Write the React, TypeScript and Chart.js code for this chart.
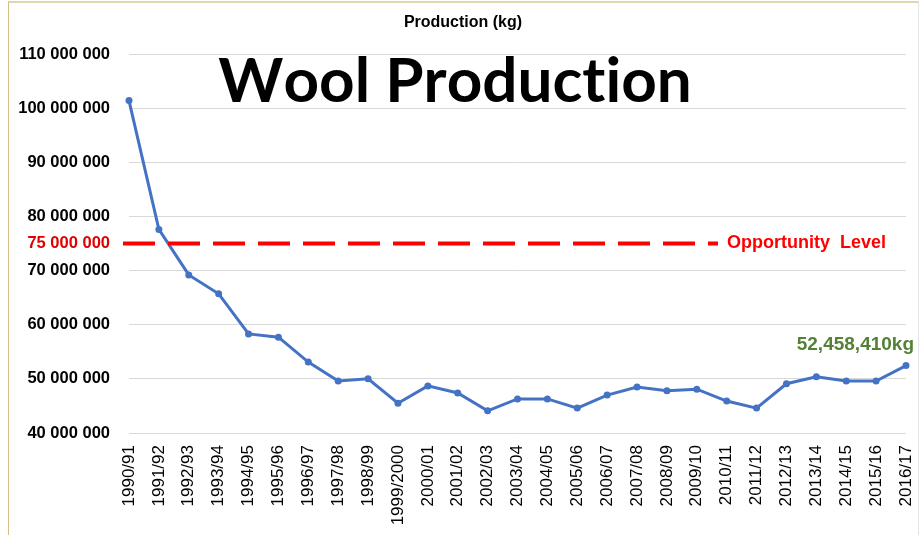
import React, { useEffect, useRef } from "react";
import { Chart, registerables } from "chart.js";

Chart.register(...registerables);

const seasons = [
  "1990/91", "1991/92", "1992/93", "1993/94", "1994/95", "1995/96", "1996/97",
  "1997/98", "1998/99", "1999/2000", "2000/01", "2001/02", "2002/03", "2003/04",
  "2004/05", "2005/06", "2006/07", "2007/08", "2008/09", "2009/10", "2010/11",
  "2011/12", "2012/13", "2013/14", "2014/15", "2015/16", "2016/17",
];

const productionKg = [
  101400000, 77600000, 69200000, 65700000, 58300000, 57700000, 53100000,
  49600000, 50000000, 45500000, 48700000, 47400000, 44100000, 46300000,
  46300000, 44600000, 47000000, 48500000, 47800000, 48100000, 45900000,
  44600000, 49100000, 50400000, 49600000, 49600000, 52458410,
];

const opportunityLevel = 75000000;
const opportunityLabel = "Opportunity  Level";
const lastValueLabel = "52,458,410kg";
const chartTitle = "Wool Production";
const axisTitle = "Production (kg)";

const yMin = 40000000;
const yMax = 110000000;
const yStep = 10000000;

const fmtSpaces = (v: number) =>
  Math.round(v).toString().replace(/\B(?=(\d{3})+(?!\d))/g, " ");

const tickFont = "bold 16.5px 'Liberation Sans', Arial, sans-serif";

const overlayPlugin = {
  id: "overlay",
  afterDatasetsDraw(chart: any) {
    const ctx = chart.ctx;
    const y = chart.scales.y;
    const x = chart.scales.x;
    const area = chart.chartArea;
    ctx.save();

    // header
    ctx.fillStyle = "#000";
    ctx.font = "bold 16px 'Liberation Sans', Arial, sans-serif";
    ctx.textAlign = "center";
    ctx.textBaseline = "middle";
    ctx.fillText(axisTitle, 463, 23);

    // big title (drawn char by char to avoid the "ti" ligature)
    ctx.font = "bold 62px Lato, 'DejaVu Sans', sans-serif";
    ctx.textAlign = "left";
    ctx.textBaseline = "alphabetic";
    const chars = Array.from(chartTitle);
    const widths = chars.map((c) => ctx.measureText(c).width);
    const total = widths.reduce((a, b) => a + b, 0);
    let cx = 455 - total / 2;
    chars.forEach((c, i) => {
      ctx.fillText(c, cx, 102);
      cx += widths[i];
    });

    // opportunity line
    const oy = y.getPixelForValue(opportunityLevel);
    ctx.strokeStyle = "#ff0000";
    ctx.lineWidth = 4;
    ctx.setLineDash([32, 13]);
    ctx.beginPath();
    ctx.moveTo(area.left - 6, oy);
    ctx.lineTo(718, oy);
    ctx.stroke();
    ctx.setLineDash([]);

    ctx.fillStyle = "#ff0000";
    ctx.font = "bold 18px 'Liberation Sans', Arial, sans-serif";
    ctx.textAlign = "left";
    ctx.textBaseline = "middle";
    ctx.fillText(opportunityLabel, 727, oy);

    ctx.fillStyle = "#e00000";
    ctx.font = tickFont;
    ctx.textAlign = "right";
    ctx.fillText(fmtSpaces(opportunityLevel), 110, oy);

    // last value label
    const li = productionKg.length - 1;
    const lx = x.getPixelForValue(li);
    const ly = y.getPixelForValue(productionKg[li]);
    ctx.fillStyle = "#548235";
    ctx.font = "bold 19px 'Liberation Sans', Arial, sans-serif";
    ctx.textAlign = "right";
    ctx.textBaseline = "middle";
    ctx.fillText(lastValueLabel, lx + 8, ly - 21);

    ctx.restore();
  },
};

export default function App() {
  const ref = useRef<HTMLCanvasElement | null>(null);

  useEffect(() => {
    document.body.style.margin = "0";
    if (!ref.current) return;
    const chart = new Chart(ref.current, {
      type: "line",
      data: {
        labels: seasons,
        datasets: [
          {
            label: axisTitle,
            data: productionKg,
            borderColor: "#4472C4",
            backgroundColor: "#4472C4",
            borderWidth: 3,
            pointRadius: 3.5,
            pointBackgroundColor: "#4472C4",
            pointBorderWidth: 0,
            tension: 0,
          },
        ],
      },
      options: {
        responsive: false,
        animation: false,
        layout: { padding: { top: 54, right: 14, left: 0, bottom: 0 } },
        plugins: {
          legend: { display: false },
          tooltip: { enabled: false },
          title: { display: false },
        },
        scales: {
          x: {
            offset: false,
            grid: { display: false, drawTicks: false },
            border: { display: false },
            ticks: {
              autoSkip: false,
              maxRotation: 90,
              minRotation: 90,
              padding: 12,
              color: "#000",
              font: { family: "'Liberation Sans', Arial, sans-serif", size: 17 },
            },
            afterFit: (s: any) => {
              s.height = 102;
              s.paddingRight = 0;
              s.paddingLeft = 0;
            },
          },
          y: {
            min: yMin,
            max: yMax,
            grid: { color: "#d9d9d9", lineWidth: 1, drawTicks: false },
            border: { display: false },
            ticks: {
              stepSize: yStep,
              padding: 19,
              color: "#000",
              font: { family: "'Liberation Sans', Arial, sans-serif", size: 16.5, weight: "bold" },
              callback: (v: any) => fmtSpaces(Number(v)),
            },
            afterFit: (s: any) => {
              s.width = 129;
            },
          },
        },
      },
      plugins: [overlayPlugin],
    });
    return () => chart.destroy();
  }, []);

  return (
    <div
      style={{
        position: "absolute",
        left: 0,
        top: 0,
        width: 920,
        height: 535,
        background: "#fff",
      }}
    >
      <div
        style={{
          position: "absolute",
          left: 8,
          top: 1,
          width: 911,
          height: 540,
          borderLeft: "1px solid #d6bf86",
          borderTop: "2px solid #e3d6ae",
          borderRight: "1px solid #e4e4e4",
          boxSizing: "border-box",
        }}
      />
      <canvas ref={ref} width={920} height={535} style={{ position: "absolute", left: 0, top: 0 }} />
    </div>
  );
}
